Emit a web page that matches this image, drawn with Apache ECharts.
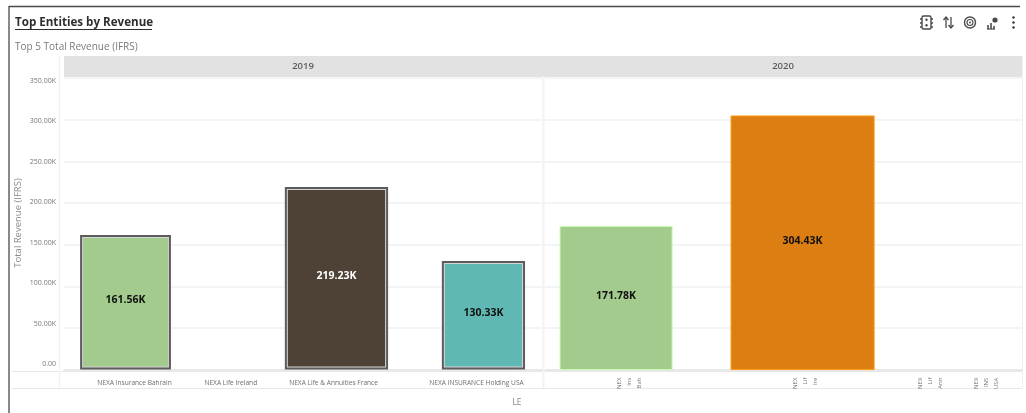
<!DOCTYPE html>
<html>
<head>
<meta charset="utf-8">
<style>html,body{margin:0;padding:0;background:#fff}#chart{width:1026px;height:413px}</style>
<script src="https://cdn.jsdelivr.net/npm/echarts@6/dist/echarts.min.js"></script>
</head>
<body>
<div id="chart"></div>
<script>
// Revenue per legal entity, one panel per year
const years = ['2019', '2020'];
const entities2019 = ['NEXA Insurance Bahrain', 'NEXA Life Ireland', 'NEXA Life & Annuities France', 'NEXA INSURANCE Holding USA'];
const revenue2019 = [161560, null, 219230, 130330];
const entities2020 = ['NEXA Insurance Bahrain', 'NEXA Life Ireland', 'NEXA Life Annuities', 'NEXA INSURANCE USA'];
const revenue2020 = [171780, 304430, null, null];
const colors2019 = ['#a3cb8d', null, '#4e4136', '#60b8b4'];
const colors2020 = ['#a3cb8d', '#dd7e12', null, null];
const labelColors2019 = ['#111', null, '#fff', '#111'];
const labelColors2020 = ['#111', '#111', null, null];

// Slots along each panel, in percent of the panel width
const barCenter2019 = [12.87, 34.9, 57.0, 87.75];
const barWidth2019 = [19.0, 0, 21.6, 17.4];
const labelAt2019 = [14.75, 34.9, 56.4, 86.3];
const barCenter2020 = [14.9, 54.0, 80.7, 92.5];
const barWidth2020 = [23.5, 30.0, 0, 0];
const labelAt2020 = [17.6, 54.5, 80.7, 92.5];

const valueTicks = { min: 0, max: 350000, interval: 50000 };
const fontFamily = '"Open Sans", "Noto Sans", sans-serif';
const kLabel = v => (v / 1000).toFixed(2) + 'K';

function barItem(highlighted, colors, labelColors) {
  return function (params, api) {
    const c = api.value(0), v = api.value(1), w = api.value(2);
    if (isNaN(v)) return null; // entity has no revenue in this year
    const a = api.coord([c - w / 2, v]);
    const b = api.coord([c + w / 2, 0]);
    const x = a[0], y = a[1], width = b[0] - a[0], height = b[1] - a[1];
    const fill = colors[params.dataIndex];
    const children = [];
    if (highlighted) {
      children.push({ type: 'rect', shape: { x: x, y: y, width: width, height: height }, style: { fill: '#5c5c5c' } });
      children.push({ type: 'rect', shape: { x: x + 2, y: y + 2, width: width - 4, height: height - 4 }, style: { fill: '#d4d4d4' } });
    }
    const inset = highlighted ? 3 : 0;
    children.push({
      type: 'rect',
      shape: { x: x + inset, y: y + inset, width: width - inset * 2, height: height - inset * 2 },
      style: { fill: fill, stroke: highlighted ? null : echarts.color.lift(fill, -0.25), lineWidth: highlighted ? 0 : 1 }
    });
    children.push({
      type: 'text',
      style: {
        x: x + width / 2, y: y + height / 2 - 2,
        text: kLabel(v), align: 'center', verticalAlign: 'middle',
        font: 'bold 10.5px ' + fontFamily, fill: labelColors[params.dataIndex]
      }
    });
    return { type: 'group', children: children };
  };
}

function seriesData(values, centers, widths) {
  return values.map((v, i) => [centers[i], v, widths[i]]);
}

// Narrow panel: the rotated names are cut off after a few characters per line
function clippedName(name) {
  const words = name.split(' ');
  return [words[0], words[1], words[words.length - 1]].map(w => w.slice(0, 3)).join('\n');
}

function entityAxis(gridIndex, positions, names, wide) {
  return {
    type: 'value', gridIndex: gridIndex, min: 0, max: 100,
    splitLine: { show: false }, axisTick: { show: false },
    axisLine: { show: true, lineStyle: { color: '#e4e4e4', width: 1.5 } },
    axisLabel: wide ? {
      customValues: positions, margin: 10, fontSize: 6.6, color: '#6e6e6e', fontFamily: fontFamily,
      formatter: v => names[positions.indexOf(v)]
    } : {
      customValues: positions, margin: 8, rotate: 90, fontSize: 6, lineHeight: 10, color: '#777', fontFamily: fontFamily,
      formatter: v => clippedName(names[positions.indexOf(v)])
    }
  };
}

function panelValueAxis(gridIndex) {
  return {
    type: 'value', gridIndex: gridIndex, min: valueTicks.min, max: valueTicks.max, interval: valueTicks.interval,
    axisLabel: { show: false }, axisTick: { show: false }, axisLine: { show: false },
    splitLine: { lineStyle: { color: '#eef0f4', width: 1.5 } }
  };
}

const line = (x1, y1, x2, y2, stroke, lineWidth) => ({
  type: 'line', silent: true, shape: { x1, y1, x2, y2 }, style: { stroke, lineWidth }
});
const text = (x, y, t, font, fill, align) => ({
  type: 'text', silent: true, style: { x, y, text: t, font: font + ' ' + fontFamily, fill, align: align || 'left', verticalAlign: 'middle' }
});
const iconStroke = { stroke: '#4a4a4a', fill: 'none', lineWidth: 1.4 };

const furniture = [
  // Card frame
  line(9, 6.5, 1020, 6.5, '#4a4a4a', 1.3),
  line(9, 6, 9, 413, '#4a4a4a', 1.3),
  // Year header band and table rules
  { type: 'rect', silent: true, shape: { x: 64, y: 56, width: 958, height: 21 }, style: { fill: '#e2e2e2' } },
  line(11, 388.5, 1022, 388.5, '#e8e8e8', 1),
  line(11, 371.5, 1022, 371.5, '#e8e8e8', 1),
  line(59.5, 56, 59.5, 388, '#f2f2f2', 1.5),
  line(543.5, 76, 543.5, 388, '#f2f2f2', 2),
  line(1022.5, 56, 1022.5, 388, '#f0f0f0', 1),
  // Header texts
  text(15, 22.5, 'Top Entities by Revenue', 'bold 11.6px', '#2e2e2e'),
  line(15, 29.5, 152, 29.5, '#2e2e2e', 1),
  text(15, 47, 'Top 5 Total Revenue (IFRS)', '10px', '#7a7a7a'),
  text(303, 66.5, years[0], '600 9.5px', '#5a5a5a', 'center'),
  text(783, 66.5, years[1], '600 9.5px', '#5a5a5a', 'center'),
  text(517, 403, 'LE', '8.5px', '#8a8a8a', 'center'),
  // Value axis title
  {
    type: 'text', silent: true, x: 18, y: 223, rotation: Math.PI / 2,
    style: { text: 'Total Revenue (IFRS)', font: '9.5px ' + fontFamily, fill: '#8a8a8a', align: 'center', verticalAlign: 'middle' }
  },
  // Toolbar icons
  { type: 'rect', silent: true, shape: { x: 922, y: 16, width: 9, height: 13, r: 1.5 }, style: iconStroke },
  { type: 'circle', silent: true, shape: { cx: 926.5, cy: 19.7, r: 1.2 }, style: { fill: '#4a4a4a' } },
  { type: 'circle', silent: true, shape: { cx: 926.5, cy: 25.3, r: 1.2 }, style: { fill: '#4a4a4a' } },
  line(920, 19, 922, 19, '#4a4a4a', 1.4), line(920, 23, 922, 23, '#4a4a4a', 1.4), line(920, 27, 922, 27, '#4a4a4a', 1.4),
  line(931, 19, 933, 19, '#4a4a4a', 1.4), line(931, 23, 933, 23, '#4a4a4a', 1.4), line(931, 27, 933, 27, '#4a4a4a', 1.4),
  line(946, 17, 946, 28, '#4a4a4a', 1.3),
  { type: 'polyline', silent: true, shape: { points: [[943.5, 20], [946, 17], [948.5, 20]] }, style: iconStroke },
  line(951, 17, 951, 28, '#4a4a4a', 1.3),
  { type: 'polyline', silent: true, shape: { points: [[948.5, 25], [951, 28], [953.5, 25]] }, style: iconStroke },
  { type: 'circle', silent: true, shape: { cx: 970, cy: 22.5, r: 5.5 }, style: iconStroke },
  { type: 'circle', silent: true, shape: { cx: 970, cy: 22.5, r: 3 }, style: { stroke: '#4a4a4a', fill: 'none', lineWidth: 1.1 } },
  { type: 'circle', silent: true, shape: { cx: 970, cy: 22.5, r: 1 }, style: { fill: '#4a4a4a' } },
  line(987, 29, 995, 29, '#4a4a4a', 1.2),
  line(988, 29, 988, 25, '#4a4a4a', 1.6), line(991, 29, 991, 23, '#4a4a4a', 1.6), line(994, 29, 994, 26, '#4a4a4a', 1.6),
  { type: 'circle', silent: true, shape: { cx: 995, cy: 20, r: 2.6 }, style: { fill: '#4a4a4a' } },
  { type: 'circle', silent: true, shape: { cx: 1013.5, cy: 17.5, r: 1.2 }, style: { fill: '#333' } },
  { type: 'circle', silent: true, shape: { cx: 1013.5, cy: 22.5, r: 1.2 }, style: { fill: '#333' } },
  { type: 'circle', silent: true, shape: { cx: 1013.5, cy: 27.5, r: 1.2 }, style: { fill: '#333' } }
];

const chart = echarts.init(document.getElementById('chart'), null, { renderer: 'canvas' });
chart.setOption({
  animation: false,
  backgroundColor: '#fff',
  textStyle: { fontFamily: fontFamily },
  graphic: { elements: furniture },
  grid: [
    { left: 64, width: 478, top: 78, height: 291.6 },
    { left: 545, width: 477, top: 78, height: 291.6 },
    { left: 0, width: 58, top: 81, height: 283 }
  ],
  xAxis: [
    entityAxis(0, labelAt2019, entities2019, true),
    entityAxis(1, labelAt2020, entities2020, false),
    { type: 'value', gridIndex: 2, show: false, min: 0, max: 1 }
  ],
  yAxis: [
    panelValueAxis(0),
    panelValueAxis(1),
    {
      type: 'value', gridIndex: 2, min: valueTicks.min, max: valueTicks.max, interval: valueTicks.interval,
      position: 'right', axisLine: { show: false }, axisTick: { show: false }, splitLine: { show: false },
      axisLabel: { inside: true, margin: 2, fontSize: 7, color: '#777', fontFamily: fontFamily, formatter: v => v === 0 ? '0.00' : kLabel(v) }
    }
  ],
  series: [
    {
      type: 'custom', xAxisIndex: 0, yAxisIndex: 0, clip: false,
      renderItem: barItem(true, colors2019, labelColors2019),
      data: seriesData(revenue2019, barCenter2019, barWidth2019)
    },
    {
      type: 'custom', xAxisIndex: 1, yAxisIndex: 1, clip: false,
      renderItem: barItem(false, colors2020, labelColors2020),
      data: seriesData(revenue2020, barCenter2020, barWidth2020)
    }
  ]
});
</script>
</body>
</html>
